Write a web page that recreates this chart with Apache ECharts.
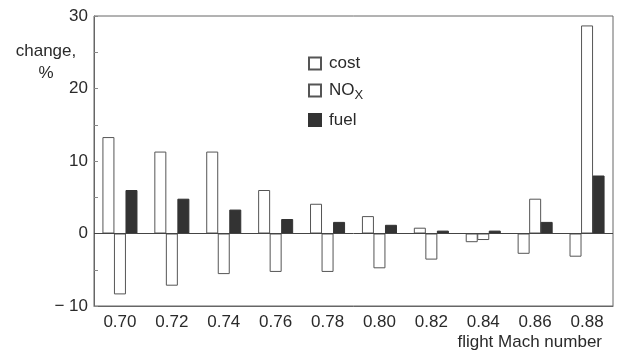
<!DOCTYPE html>
<html>
<head>
<meta charset="utf-8">
<script src="https://cdn.jsdelivr.net/npm/echarts@6/dist/echarts.min.js"></script>
<style>
  html, body { margin: 0; padding: 0; background: #fff; }
  #container { width: 617px; height: 354px; }
</style>
</head>
<body>
<div id="container"></div>
<script>
// values, % change
let machNumbers = ['0.70', '0.72', '0.74', '0.76', '0.78', '0.80', '0.82', '0.84', '0.86', '0.88'];
let costChange = [13.3, 11.3, 11.3, 6.0, 4.1, 2.4, 0.8, -1.2, -2.8, -3.2];
let noxChange = [-8.4, -7.2, -5.6, -5.3, -5.3, -4.8, -3.6, -0.9, 4.8, 28.7];
let fuelChange = [6.0, 4.8, 3.3, 2.0, 1.6, 1.2, 0.4, 0.4, 1.6, 8.0];

let dom = document.getElementById("container");
let myChart = echarts.init(dom);

let font = 'Liberation Sans';
let ink = '#2a2a2a';

let option = {
    animation: false,
    textStyle: { fontFamily: font, color: ink },
    grid: {
        left: 94, right: 4, top: 16, bottom: 48,
        outerBoundsMode: 'none',
        show: true, borderColor: '#666', borderWidth: 1
    },
    // y axis title sits left of the axis, two centred lines
    graphic: [{
        type: 'text',
        x: 46, y: 40,
        style: {
            text: 'change,\n%',
            align: 'center',
            verticalAlign: 'top',
            fontFamily: font, fontSize: 17, lineHeight: 22, fill: ink
        }
    }],
    legend: {
        orient: 'vertical',
        left: 303, top: 50,
        icon: 'rect',
        itemWidth: 12, itemHeight: 12, itemGap: 10,
        textStyle: {
            fontFamily: font, fontSize: 17, color: ink, padding: [0, 0, 0, 3],
            rich: {
                sub: { fontFamily: font, fontSize: 13, color: ink, verticalAlign: 'bottom', padding: [9, 0, 0, 0] }
            }
        },
        formatter: function (name) {
            return name === 'NOx' ? 'NO{sub|X}' : name;
        },
        data: ['cost', 'NOx', 'fuel']
    },
    xAxis: {
        type: 'category',
        data: machNumbers,
        name: 'flight Mach number',
        nameLocation: 'end',
        nameGap: 0,
        nameTextStyle: { fontSize: 17, color: ink, align: 'right', verticalAlign: 'top', padding: [28, 11, 0, 0] },
        axisLine: { onZero: false, lineStyle: { color: '#666' } },
        axisTick: { show: false },
        axisLabel: { fontSize: 17, color: ink, margin: 8 }
    },
    yAxis: {
        type: 'value',
        min: -10, max: 30, interval: 10,
        axisLine: { show: true, lineStyle: { color: '#666' } },
        axisTick: { show: true, inside: true, length: 4, lineStyle: { color: '#888' } },
        minorTick: { show: true, splitNumber: 2, length: 4, lineStyle: { color: '#888' } },
        splitLine: { show: false },
        axisLabel: {
            fontSize: 17, color: ink, margin: 6,
            formatter: function (v) { return v < 0 ? '\u2212 ' + Math.abs(v) : String(v); }
        }
    },
    series: [{
        name: 'cost',
        type: 'bar',
        data: costChange,
        barWidth: 12,
        barGap: '-4%',
        itemStyle: { color: '#fff', borderColor: '#555', borderWidth: 1 },
        markLine: {
            silent: true,
            symbol: 'none',
            label: { show: false },
            lineStyle: { color: '#444', type: 'solid', width: 1 },
            data: [{ yAxis: 0 }]
        }
    }, {
        name: 'NOx',
        type: 'bar',
        data: noxChange,
        barWidth: 12,
        barGap: '-4%',
        itemStyle: { color: '#fff', borderColor: '#555', borderWidth: 1 }
    }, {
        name: 'fuel',
        type: 'bar',
        data: fuelChange,
        barWidth: 12,
        barGap: '-4%',
        itemStyle: { color: '#333', borderColor: '#333', borderWidth: 1 }
    }]
};

myChart.setOption(option);
</script>
</body>
</html>
